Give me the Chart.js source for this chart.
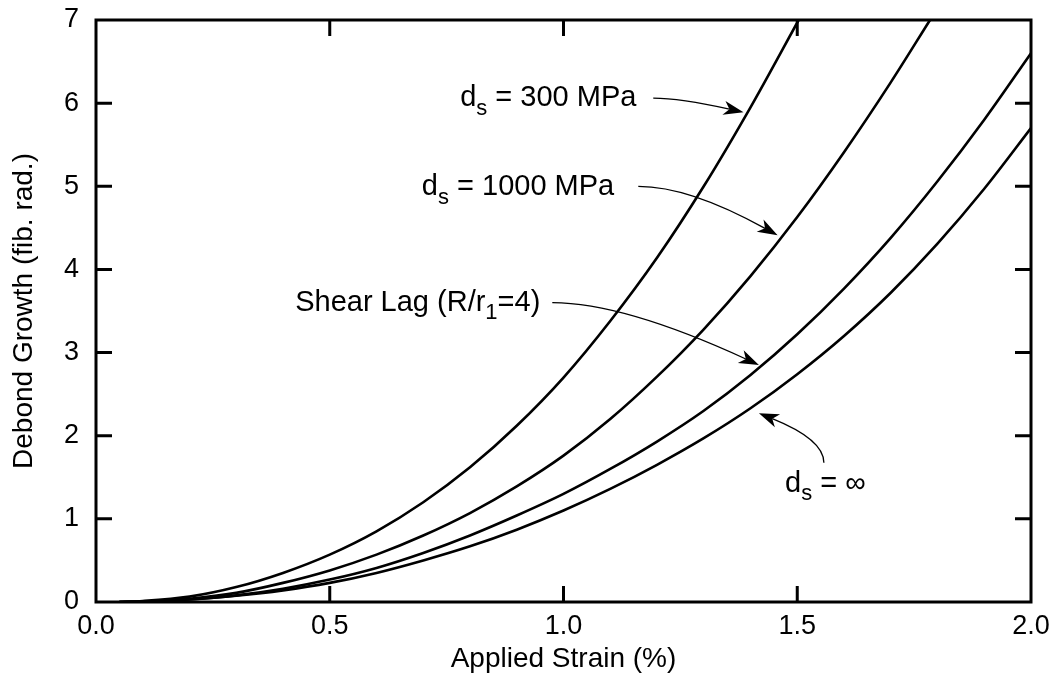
<!DOCTYPE html>
<html>
<head>
<meta charset="utf-8">
<script src="https://cdn.jsdelivr.net/npm/chart.js@4.4.1/dist/chart.umd.min.js"></script>
<style>
  html, body { margin: 0; padding: 0; background: #fff; }
  #wrap { width: 1052px; height: 690px; }
</style>
</head>
<body>
<div id="wrap"><canvas id="debondChart" width="1052" height="690"></canvas></div>
<script>
// values: applied strain (%) -> debond growth (fib. rad.)
const strain300 = [0.05, 0.1, 0.2, 0.3, 0.4, 0.5, 0.6, 0.7, 0.8, 0.9, 1.0, 1.1, 1.2, 1.3, 1.4, 1.503];
const growth300 = [0, 0.012, 0.065, 0.18, 0.35, 0.57, 0.85, 1.2, 1.62, 2.12, 2.7, 3.38, 4.14, 5.0, 5.95, 7.0];

const strain1000 = [0.05, 0.1, 0.2, 0.3, 0.4, 0.5, 0.6, 0.7, 0.8, 0.9, 1.0, 1.1, 1.2, 1.3, 1.4, 1.5, 1.6, 1.7, 1.784];
const growth1000 = [0, 0.005, 0.04, 0.11, 0.23, 0.38, 0.57, 0.8, 1.07, 1.39, 1.76, 2.2, 2.71, 3.28, 3.92, 4.63, 5.41, 6.25, 7.0];

const strainFull = [0.05, 0.1, 0.2, 0.3, 0.4, 0.5, 0.6, 0.7, 0.8, 0.9, 1.0, 1.1, 1.2, 1.3, 1.4, 1.5, 1.6, 1.7, 1.8, 1.9, 2.0];
const growthShearLag = [0, 0.005, 0.03, 0.08, 0.16, 0.27, 0.41, 0.59, 0.8, 1.04, 1.3, 1.6, 1.93, 2.3, 2.73, 3.22, 3.77, 4.38, 5.06, 5.8, 6.6];
const growthInf = [0, 0.005, 0.03, 0.075, 0.14, 0.23, 0.35, 0.5, 0.67, 0.87, 1.1, 1.36, 1.65, 1.97, 2.33, 2.74, 3.2, 3.72, 4.31, 4.97, 5.7];

const xTicks = [0, 0.5, 1.0, 1.5, 2.0];
const yTicks = [0, 1, 2, 3, 4, 5, 6, 7];

const FONT = "'Liberation Sans', Arial, Helvetica, sans-serif";
const TICK_FS = 27;
const TITLE_FS = 28;
const NOTE_FS = 29;

function pts(xs, ys) {
  return xs.map((x, i) => ({ x: x, y: ys[i] }));
}

// labels and arrows, placed in data units
const notes = [
  { parts: [["d"], ["s", true], [" = 300 MPa"]], at: [0.779, 6.06],
    arrow: { from: [1.192, 6.06], ctrl: [1.249, 6.06], to: [1.385, 5.89] } },
  { parts: [["d"], ["s", true], [" = 1000 MPa"]], at: [0.697, 4.99],
    arrow: { from: [1.16, 5.0], ctrl: [1.269, 5.0], to: [1.458, 4.41] } },
  { parts: [["Shear Lag (R/r"], ["1", true], ["=4)"]], at: [0.426, 3.6],
    arrow: { from: [0.976, 3.6], ctrl: [1.128, 3.6], to: [1.418, 2.85] } },
  { parts: [["d"], ["s", true], [" = \u221E"]], at: [1.474, 1.42],
    arrow: { from: [1.557, 1.675], ctrl: [1.557, 1.955], to: [1.418, 2.27] } },
];

const framePlugin = {
  id: "frame",
  afterDatasetsDraw(chart) {
    const { ctx, chartArea: a, scales } = chart;
    const tick = 16;
    ctx.save();
    ctx.strokeStyle = "#000";
    ctx.lineWidth = 3;
    ctx.beginPath();
    xTicks.forEach(v => {
      const px = scales.x.getPixelForValue(v);
      if (px <= a.left + 2 || px >= a.right - 2) return;
      ctx.moveTo(px, a.bottom); ctx.lineTo(px, a.bottom - tick);
      ctx.moveTo(px, a.top); ctx.lineTo(px, a.top + tick);
    });
    yTicks.forEach(v => {
      const py = scales.y.getPixelForValue(v);
      if (py <= a.top + 2 || py >= a.bottom - 2) return;
      ctx.moveTo(a.left, py); ctx.lineTo(a.left + tick, py);
      ctx.moveTo(a.right, py); ctx.lineTo(a.right - tick, py);
    });
    ctx.stroke();
    ctx.strokeRect(a.left, a.top, a.right - a.left, a.bottom - a.top);
    ctx.restore();
  }
};

const notesPlugin = {
  id: "notes",
  afterDatasetsDraw(chart) {
    const { ctx, scales } = chart;
    const X = v => scales.x.getPixelForValue(v);
    const Y = v => scales.y.getPixelForValue(v);
    ctx.save();
    ctx.fillStyle = "#000";
    ctx.strokeStyle = "#000";
    ctx.textBaseline = "middle";
    ctx.textAlign = "left";
    notes.forEach(n => {
      let x = X(n.at[0]);
      const y = Y(n.at[1]);
      n.parts.forEach(p => {
        const sub = p[1];
        ctx.font = (sub ? Math.round(NOTE_FS * 0.75) : NOTE_FS) + "px " + FONT;
        ctx.fillText(p[0], x, sub ? y + NOTE_FS * 0.36 : y);
        x += ctx.measureText(p[0]).width;
      });

      const s = [X(n.arrow.from[0]), Y(n.arrow.from[1])];
      const c = [X(n.arrow.ctrl[0]), Y(n.arrow.ctrl[1])];
      const e = [X(n.arrow.to[0]), Y(n.arrow.to[1])];
      const ang = Math.atan2(e[1] - c[1], e[0] - c[0]);
      const len = 20, half = 7;
      const back = [e[0] - Math.cos(ang) * len * 0.72, e[1] - Math.sin(ang) * len * 0.72];
      ctx.lineWidth = 1.3;
      ctx.beginPath();
      ctx.moveTo(s[0], s[1]);
      ctx.quadraticCurveTo(c[0], c[1], back[0], back[1]);
      ctx.stroke();
      const bx = e[0] - Math.cos(ang) * len, by = e[1] - Math.sin(ang) * len;
      const nx = -Math.sin(ang), ny = Math.cos(ang);
      ctx.beginPath();
      ctx.moveTo(e[0], e[1]);
      ctx.lineTo(bx + nx * half, by + ny * half);
      ctx.lineTo(back[0], back[1]);
      ctx.lineTo(bx - nx * half, by - ny * half);
      ctx.closePath();
      ctx.fill();
    });
    ctx.restore();
  }
};

const lineStyle = {
  borderColor: "#000",
  borderWidth: 2.6,
  pointRadius: 0,
  fill: false,
  cubicInterpolationMode: "monotone",
};

const ctx = document.getElementById("debondChart").getContext("2d");
new Chart(ctx, {
  type: "line",
  data: {
    datasets: [
      { label: "ds = 300 MPa", data: pts(strain300, growth300), ...lineStyle },
      { label: "ds = 1000 MPa", data: pts(strain1000, growth1000), ...lineStyle },
      { label: "Shear Lag (R/r1=4)", data: pts(strainFull, growthShearLag), ...lineStyle },
      { label: "ds = inf", data: pts(strainFull, growthInf), ...lineStyle },
    ],
  },
  options: {
    responsive: false,
    animation: false,
    events: [],
    layout: { padding: { top: 20, right: 21, left: 0, bottom: 0 } },
    plugins: { legend: { display: false }, tooltip: { enabled: false } },
    scales: {
      x: {
        type: "linear",
        min: 0,
        max: 2,
        afterBuildTicks: s => { s.ticks = xTicks.map(v => ({ value: v })); },
        afterFit: s => { s.height = 88; s.paddingLeft = 0; s.paddingRight = 0; },
        grid: { display: false },
        border: { display: false },
        ticks: {
          color: "#000",
          font: { family: FONT, size: TICK_FS },
          padding: 0,
          maxRotation: 0,
          callback: v => v.toFixed(1),
        },
        title: {
          display: true,
          text: "Applied Strain (%)",
          color: "#000",
          font: { family: FONT, size: TITLE_FS },
          padding: { top: 0, bottom: 14 },
        },
      },
      y: {
        min: 0,
        max: 7,
        afterBuildTicks: s => { s.ticks = yTicks.map(v => ({ value: v })); },
        afterFit: s => { s.width = 96; s.paddingTop = 0; s.paddingBottom = 0; },
        grid: { display: false },
        border: { display: false },
        ticks: {
          color: "#000",
          font: { family: FONT, size: TICK_FS },
          padding: 9,
        },
        title: {
          display: true,
          text: "Debond Growth (fib. rad.)",
          color: "#000",
          font: { family: FONT, size: TITLE_FS },
          padding: { top: 7, bottom: 0 },
        },
      },
    },
  },
  plugins: [framePlugin, notesPlugin],
});
</script>
</body>
</html>
